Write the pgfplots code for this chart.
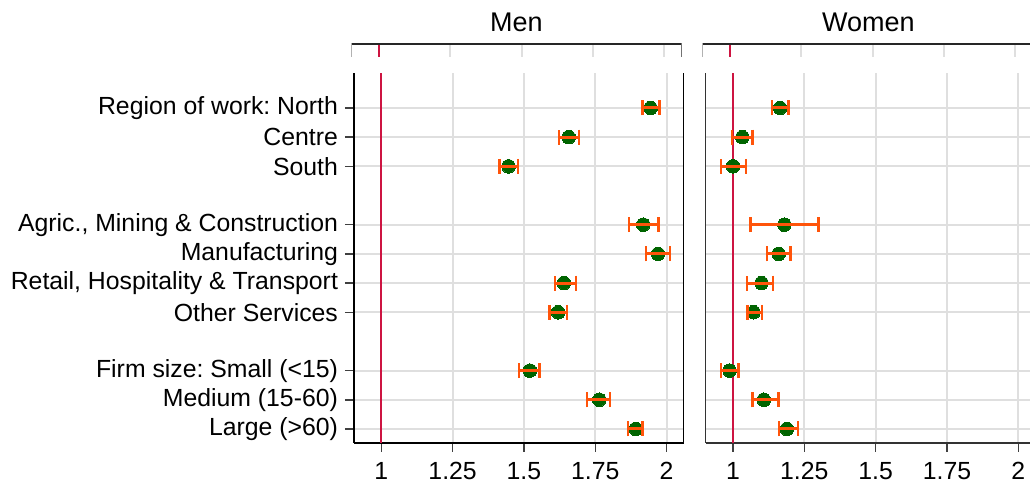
\documentclass[border=0pt]{standalone}
\usepackage{pgfplots}
\usepackage{pgfplotstable}
\pgfplotsset{compat=1.18}
\usepackage{fontspec}
\setmainfont{Liberation Sans}
\frenchspacing
\definecolor{dgreen}{RGB}{0,100,0}
\definecolor{ciorange}{RGB}{255,84,10}
\definecolor{refred}{RGB}{205,20,65}

\pgfplotstableread{
y x lo hi
12 1.944 1.916 1.975
11 1.657 1.623 1.693
10 1.446 1.415 1.480
8 1.918 1.868 1.971
7 1.970 1.928 2.012
6 1.640 1.609 1.682
5 1.620 1.590 1.651
3 1.521 1.482 1.555
2 1.764 1.722 1.802
1 1.892 1.864 1.915
}\men

\pgfplotstableread{
y x lo hi
12 1.165 1.137 1.194
11 1.033 0.996 1.069
10 1.000 0.958 1.046
8 1.180 1.061 1.300
7 1.160 1.119 1.201
6 1.100 1.050 1.141
5 1.072 1.051 1.102
3 0.988 0.957 1.019
2 1.108 1.068 1.160
1 1.189 1.161 1.228
}\women

\pgfplotsset{
  panel/.style={
    scale only axis, width=165pt, height=185pt,
    xmin=0.9043, xmax=2.061, ymin=0.52, ymax=13.199,
    xtick={1,1.25,1.5,1.75,2}, xticklabels={1,1.25,1.5,1.75,2},
    ytick={1,2,3,5,6,7,8,10,11,12},
    grid=major, major grid style={gray!25, line width=1pt},
    axis x line*=bottom, axis y line*=left,
    axis line style={line width=0.75pt},
    tick align=outside, major tick length=4.5pt,
    tick style={black!75, line width=0.75pt},
    ticklabel style={font=\fontsize{12.4}{14}\selectfont},
    xticklabel style={yshift=-1.5pt},
    clip marker paths=true,
  },
  strip/.style={
    scale only axis, width=165pt, height=6.5pt,
    xmin=0.9043, xmax=2.061, ymin=0, ymax=1,
    xtick={1,1.25,1.5,1.75,2}, xticklabels={},
    ytick=\empty,
    xmajorgrids, major grid style={gray!25, line width=1pt},
    axis line style={draw=none},
    tick style={draw=none},
  },
  dots/.style={only marks, mark=*, mark size=3.4pt, mark options={fill=dgreen, draw=dgreen, line width=0pt}},
  cis/.style={only marks, mark=*, mark options={draw=none, fill=none}, mark size=0pt,
    error bars/.cd, x dir=both, x explicit,
    error bar style={ciorange, line width=1.5pt},
    error mark options={rotate=90, ciorange, line width=1.2pt, mark size=3.75pt}},
}

\begin{document}
\begin{tikzpicture}
\useasboundingbox (0,0) rectangle (515pt,242.5pt);

% Men
\begin{axis}[panel, at={(177pt,21pt)}, anchor=south west,
  yticklabels={Large (>60),Medium (15-60),Firm size: Small (<15),Other Services,{Retail, Hospitality \& Transport},Manufacturing,{Agric., Mining \& Construction},South,Centre,Region of work: North}]
  \addplot[refred, line width=1pt] coordinates {(1,0.52) (1,13.199)};
  \addplot[dots] table[x=x, y=y] {\men};
  \addplot[cis] table[x=x, y=y,
    x error plus expr=\thisrow{hi}-\thisrow{x},
    x error minus expr=\thisrow{x}-\thisrow{lo}] {\men};
  \draw[black, line width=0.75pt] (rel axis cs:1,0) -- (rel axis cs:1,1);
\end{axis}

% Women
\begin{axis}[panel, at={(352.85pt,21pt)}, anchor=south west,
  yticklabels={}, y tick style={draw=none},
  axis line style={line width=0.75pt, black!80}]
  \addplot[refred, line width=1pt] coordinates {(1,0.52) (1,13.199)};
  \addplot[dots] table[x=x, y=y] {\women};
  \addplot[cis] table[x=x, y=y,
    x error plus expr=\thisrow{hi}-\thisrow{x},
    x error minus expr=\thisrow{x}-\thisrow{lo}] {\women};
\end{axis}

% strips
\begin{axis}[strip, at={(175.85pt,214pt)}, anchor=south west]
  \addplot[refred, line width=1pt] coordinates {(1,0) (1,1)};
  \draw[black!85, line width=0.75pt] (rel axis cs:0,0) -- (rel axis cs:0,1) -- (rel axis cs:1,1) -- (rel axis cs:1,0);
\end{axis}
\begin{axis}[strip, at={(351.35pt,214pt)}, anchor=south west]
  \addplot[refred, line width=1pt] coordinates {(1,0) (1,1)};
  \draw[black!85, line width=0.75pt] (rel axis cs:0,0) -- (rel axis cs:0,1) -- (rel axis cs:1,1) -- (rel axis cs:1,0);
\end{axis}

\node[font=\fontsize{13.5}{16}\selectfont] at (258.2pt,231.5pt) {Men};
\node[font=\fontsize{13.5}{16}\selectfont] at (434.2pt,231.5pt) {Women};
\end{tikzpicture}
\end{document}
